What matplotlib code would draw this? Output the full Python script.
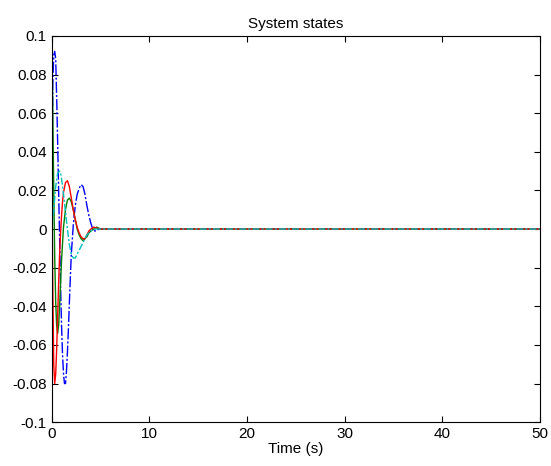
import matplotlib.pyplot as plt
import numpy as np

plt.rcParams['font.family'] = ['Liberation Sans', 'DejaVu Sans']

# state 1 (blue)
t_b = [0, 0.1, 0.2, 0.3, 0.4, 0.5, 0.6, 0.7, 0.8, 0.9, 1.0, 1.1, 1.2, 1.3, 1.4, 1.5, 1.6, 1.7, 1.8, 1.9,
       2.0, 2.2, 2.4, 2.6, 2.8, 3.0, 3.2, 3.4, 3.6, 3.8, 4.0, 4.2, 4.4, 4.6, 4.8, 5.0, 5.5, 50]
x_b = [0.0, 0.075, 0.09, 0.092, 0.088, 0.068, 0.045, 0.02, -0.005, -0.03, -0.05, -0.065, -0.075, -0.08,
       -0.08, -0.074, -0.064, -0.052, -0.038, -0.025, -0.013, 0.002, 0.012, 0.018, 0.021, 0.023, 0.022,
       0.018, 0.012, 0.007, 0.003, 0.0, -0.001, -0.001, 0.0, 0.0, 0.0, 0.0]

# state 2 (green)
t_g = [0, 0.1, 0.2, 0.3, 0.4, 0.5, 0.6, 0.7, 0.8, 0.9, 1.0, 1.2, 1.4, 1.6, 1.8, 2.0, 2.2, 2.4, 2.6,
       2.8, 3.0, 3.2, 3.4, 3.6, 3.8, 4.0, 4.3, 4.6, 5.0, 50]
x_g = [0.1, 0.06, 0.02, -0.015, -0.038, -0.05, -0.054, -0.05, -0.04, -0.028, -0.016, 0.001, 0.01,
       0.015, 0.016, 0.014, 0.01, 0.005, 0.0, -0.003, -0.005, -0.006, -0.005, -0.004, -0.002, -0.001,
       0.0, 0.001, 0.0, 0.0]

# state 3 (red)
t_r = [0, 0.1, 0.2, 0.3, 0.4, 0.5, 0.6, 0.7, 0.8, 0.9, 1.0, 1.1, 1.2, 1.4, 1.6, 1.8, 2.0, 2.2, 2.4,
       2.6, 2.8, 3.0, 3.2, 3.4, 3.6, 3.8, 4.0, 4.3, 4.6, 5.0, 50]
x_r = [0.03, -0.03, -0.07, -0.08, -0.075, -0.062, -0.045, -0.028, -0.013, -0.002, 0.007, 0.014, 0.019,
       0.024, 0.025, 0.022, 0.016, 0.01, 0.005, 0.001, -0.002, -0.004, -0.005, -0.005, -0.003, -0.001,
       0.0, 0.001, 0.0005, 0.0, 0.0]

# state 4 (cyan)
t_c = [0, 0.2, 0.4, 0.6, 0.8, 0.9, 1.0, 1.2, 1.4, 1.6, 1.8, 2.0, 2.2, 2.4, 2.6, 2.8, 3.0, 3.2, 3.4,
       3.6, 3.8, 4.0, 4.3, 4.6, 5.0, 50]
x_c = [0.0, 0.01, 0.022, 0.029, 0.03, 0.029, 0.026, 0.018, 0.009, 0.0, -0.008, -0.013, -0.015, -0.015,
       -0.013, -0.011, -0.009, -0.007, -0.005, -0.003, -0.002, -0.001, 0.0, 0.0, 0.0, 0.0]

yticks = [-0.1, -0.08, -0.06, -0.04, -0.02, 0, 0.02, 0.04, 0.06, 0.08, 0.1]
ylabels = ['-0.1', '-0.08', '-0.06', '-0.04', '-0.02', '0', '0.02', '0.04', '0.06', '0.08', '0.1']
xticks = [0, 10, 20, 30, 40, 50]

fig = plt.figure(figsize=(5.51, 4.66), dpi=100)
ax = fig.add_axes([0.094, 0.094, 0.886, 0.829])

ax.plot(t_b, x_b, color='#0000ff', lw=1.0, dashes=(8, 1.5, 1.5, 1.5))
ax.plot(t_g, x_g, color='#008000', lw=1.0)
ax.plot(t_r, x_r, color='#ff0000', lw=1.0)
ax.plot(t_c, x_c, color='#00bfbf', lw=1.0, dashes=(5, 1.5, 1.5, 1.5))

ax.set_xlim(0, 50)
ax.set_ylim(-0.1, 0.1)
ax.set_xticks(xticks)
ax.set_yticks(yticks)
ax.set_yticklabels(ylabels)
ax.tick_params(direction='in', top=True, right=True, length=4, labelsize=11)
ax.set_xlabel('Time (s)', fontsize=11, labelpad=1)
ax.set_title('System states', fontsize=11, pad=6)
for s in ax.spines.values():
    s.set_linewidth(0.8)

plt.savefig('out.png', dpi=100)
